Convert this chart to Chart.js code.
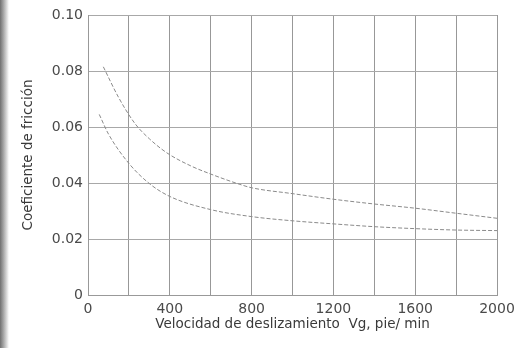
<!DOCTYPE html>
<html>
<head>
<meta charset="utf-8">
<script src="https://cdn.jsdelivr.net/npm/chart.js@4/dist/chart.umd.min.js"></script>
<style>
  html, body { margin: 0; padding: 0; background: #ffffff; }
  body { width: 529px; height: 348px; overflow: hidden; }
  #wrap { position: relative; width: 529px; height: 348px; background: #ffffff; }
  #edge {
    position: absolute; left: 0; top: 0; width: 9px; height: 348px;
    background: linear-gradient(to right, #707070, #a8a8a8 40%, #ffffff);
  }
</style>
</head>
<body>
<div id="wrap"><div id="edge"></div><canvas id="chart"></canvas></div>
<script>
// tick values
const xTicks = [0, 400, 800, 1200, 1600, 2000];
const yTicks = [0, 0.02, 0.04, 0.06, 0.08, 0.10];

// upper curve
const upperX = [75, 150, 230, 300, 385, 500, 600, 743, 800, 1000, 1200, 1400, 1600, 1800, 2000];
const upperY = [0.0815, 0.0705, 0.0612, 0.0558, 0.0508, 0.0462, 0.0432, 0.0395, 0.0383, 0.0362, 0.0342, 0.0325, 0.031, 0.0292, 0.0274];

// lower curve
const lowerX = [55, 100, 200, 300, 400, 600, 800, 1000, 1200, 1400, 1600, 1800, 2000];
const lowerY = [0.0645, 0.0575, 0.047, 0.0398, 0.0352, 0.0305, 0.028, 0.0265, 0.0254, 0.0244, 0.0237, 0.0232, 0.023];

const toPoints = (xs, ys) => xs.map((x, i) => ({ x: x, y: ys[i] }));

const lineStyle = {
    showLine: true,
    borderColor: '#8a8a8a',
    borderWidth: 1,
    borderDash: [4, 2],
    pointRadius: 0,
    fill: false,
    cubicInterpolationMode: 'monotone'
};

new Chart(document.getElementById('chart'), {
    type: 'scatter',
    data: {
        datasets: [
            Object.assign({ label: 'superior', data: toPoints(upperX, upperY) }, lineStyle),
            Object.assign({ label: 'inferior', data: toPoints(lowerX, lowerY) }, lineStyle)
        ]
    },
    options: {
        responsive: true,
        maintainAspectRatio: false,
        animation: false,
        layout: { padding: { left: 0, top: 15, right: 32, bottom: 0 } },
        plugins: {
            legend: { display: false },
            tooltip: { enabled: false }
        },
        scales: {
            x: {
                type: 'linear',
                min: 0,
                max: 2000,
                afterFit: s => { s.height = 53; },
                grid: { color: 'rgba(50,50,50,0.5)', lineWidth: 1, drawTicks: false },
                border: { color: '#999', width: 1 },
                ticks: {
                    stepSize: 200,
                    padding: 6,
                    maxRotation: 0,
                    autoSkip: false,
                    color: '#4a4a4a',
                    font: { family: 'DejaVu Sans', size: 14 },
                    callback: v => xTicks.includes(v) ? String(v) : ''
                },
                title: {
                    display: true,
                    text: 'Velocidad de deslizamiento  Vg, pie/ min',
                    color: '#3a3a3a',
                    font: { family: 'DejaVu Sans', size: 13.5 },
                    padding: { top: 0, bottom: 15 }
                }
            },
            y: {
                type: 'linear',
                min: 0,
                max: 0.10,
                afterFit: s => { s.width = 88; },
                afterBuildTicks: s => { s.ticks = yTicks.map(v => ({ value: v })); },
                grid: { color: '#a8a8a8', lineWidth: 1, drawTicks: false },
                border: { color: '#999', width: 1 },
                ticks: {
                    padding: 5,
                    color: '#4a4a4a',
                    font: { family: 'DejaVu Sans', size: 14 },
                    callback: v => v === 0 ? '0' : v.toFixed(2)
                },
                title: {
                    display: true,
                    text: 'Coeficiente de fricción',
                    color: '#3a3a3a',
                    font: { family: 'DejaVu Sans', size: 13.5 },
                    padding: { top: 20, bottom: 0 }
                }
            }
        }
    }
});
</script>
</body>
</html>
